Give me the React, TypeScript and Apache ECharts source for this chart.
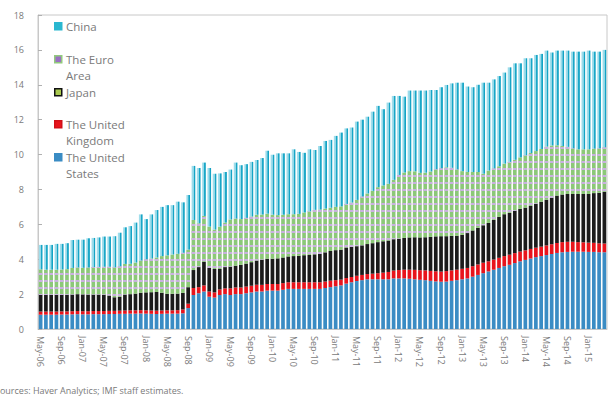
import React, { useEffect, useRef } from "react";
import * as echarts from "echarts";

const monthNames = ["Jan", "Feb", "Mar", "Apr", "May", "Jun", "Jul", "Aug", "Sep", "Oct", "Nov", "Dec"];
// May-2006 .. Apr-2015, monthly
const categories: string[] = [];
for (let k = 0; k < 108; k++) {
  const m = (4 + k) % 12;
  const y = 6 + Math.floor((4 + k) / 12);
  categories.push(`${monthNames[m]}-${String(y).padStart(2, "0")}`);
}

const seriesNames = ["The United States", "The United Kingdom", "Japan", "The Euro Area", "China"];

const usValues = [
  0.82, 0.82, 0.82, 0.82, 0.83, 0.83, 0.84, 0.85, 0.84, 0.84, 0.85, 0.85, 0.85, 0.86, 0.86, 0.87, 0.87, 0.88, 0.88, 0.89,
  0.88, 0.87, 0.86, 0.87, 0.88, 0.88, 0.88, 0.9, 1.2, 1.95, 2.05, 2.15, 1.85, 1.8, 1.95, 2.0, 1.95, 2.0, 2.0, 2.05,
  2.1, 2.15, 2.15, 2.2, 2.2, 2.2, 2.25, 2.3, 2.3, 2.3, 2.3, 2.3, 2.3, 2.3, 2.35, 2.4, 2.45, 2.5, 2.6, 2.68,
  2.75, 2.8, 2.85, 2.85, 2.85, 2.85, 2.85, 2.9, 2.9, 2.9, 2.88, 2.85, 2.82, 2.8, 2.76, 2.73, 2.71, 2.72, 2.76, 2.8,
  2.85, 2.9, 3.0, 3.1, 3.2, 3.3, 3.4, 3.5, 3.6, 3.68, 3.78, 3.88, 3.96, 4.04, 4.12, 4.18, 4.24, 4.3, 4.36, 4.4,
  4.42, 4.43, 4.43, 4.43, 4.42, 4.42, 4.4, 4.4,
];
const ukValues = [
  0.18, 0.18, 0.18, 0.18, 0.18, 0.18, 0.18, 0.18, 0.18, 0.18, 0.18, 0.18, 0.18, 0.18, 0.18, 0.18, 0.19, 0.19, 0.19, 0.19,
  0.19, 0.19, 0.19, 0.19, 0.19, 0.19, 0.2, 0.22, 0.25, 0.4, 0.35, 0.35, 0.3, 0.3, 0.32, 0.33, 0.38, 0.38, 0.38, 0.38,
  0.38, 0.38, 0.38, 0.38, 0.38, 0.38, 0.38, 0.38, 0.38, 0.38, 0.38, 0.38, 0.38, 0.38, 0.37, 0.37, 0.35, 0.33, 0.32, 0.3,
  0.3, 0.3, 0.3, 0.32, 0.35, 0.38, 0.42, 0.45, 0.48, 0.5, 0.52, 0.54, 0.55, 0.56, 0.57, 0.58, 0.58, 0.6, 0.6, 0.6,
  0.6, 0.6, 0.6, 0.6, 0.6, 0.58, 0.58, 0.58, 0.58, 0.58, 0.57, 0.56, 0.55, 0.55, 0.54, 0.54, 0.55, 0.56, 0.57, 0.58,
  0.58, 0.57, 0.55, 0.54, 0.53, 0.52, 0.51, 0.5,
];
const japanValues = [
  0.95, 0.95, 0.96, 0.95, 0.94, 0.95, 0.96, 0.97, 0.97, 0.96, 0.95, 0.95, 0.94, 0.88, 0.78, 0.8, 0.92, 0.93, 0.96, 1.0,
  1.03, 1.05, 1.07, 1.02, 0.95, 0.95, 0.95, 0.95, 0.95, 1.03, 1.15, 1.36, 1.35, 1.34, 1.17, 1.22, 1.25, 1.25, 1.3, 1.32,
  1.35, 1.4, 1.45, 1.45, 1.45, 1.47, 1.47, 1.48, 1.5, 1.52, 1.55, 1.57, 1.6, 1.62, 1.68, 1.7, 1.72, 1.72, 1.75, 1.72,
  1.7, 1.7, 1.72, 1.75, 1.78, 1.8, 1.8, 1.8, 1.8, 1.82, 1.85, 1.87, 1.88, 1.9, 1.95, 2.0, 2.03, 2.0, 1.98, 1.95,
  1.95, 2.0, 2.05, 2.1, 2.15, 2.2, 2.28, 2.35, 2.4, 2.4, 2.42, 2.45, 2.45, 2.48, 2.52, 2.58, 2.62, 2.66, 2.72, 2.73,
  2.74, 2.74, 2.76, 2.77, 2.79, 2.85, 2.9, 2.97,
];
const euroValues = [
  1.47, 1.45, 1.44, 1.45, 1.46, 1.47, 1.52, 1.53, 1.52, 1.55, 1.57, 1.58, 1.6, 1.65, 1.72, 1.75, 1.75, 1.74, 1.78, 1.85,
  1.9, 1.93, 1.98, 2.1, 2.2, 2.25, 2.28, 2.3, 2.15, 2.87, 2.51, 2.62, 2.37, 2.26, 2.43, 2.55, 2.7, 2.7, 2.62, 2.62,
  2.62, 2.62, 2.58, 2.58, 2.52, 2.48, 2.45, 2.42, 2.4, 2.4, 2.45, 2.5, 2.55, 2.55, 2.5, 2.48, 2.48, 2.48, 2.5, 2.55,
  2.65, 2.8, 2.9, 3.0, 3.15, 3.2, 3.25, 3.4, 3.65, 3.75, 3.8, 3.78, 3.7, 3.7, 3.75, 3.85, 3.9, 3.95, 3.9, 3.8,
  3.65, 3.5, 3.35, 3.2, 2.95, 3.0, 2.95, 2.9, 2.9, 2.92, 2.93, 2.95, 3.0, 3.02, 3.02, 3.02, 3.05, 3.0, 2.88, 2.78,
  2.7, 2.62, 2.56, 2.56, 2.56, 2.55, 2.55, 2.55,
];
const chinaValues = [
  1.4, 1.42, 1.42, 1.48, 1.47, 1.49, 1.6, 1.59, 1.61, 1.67, 1.67, 1.69, 1.73, 1.73, 1.78, 1.92, 2.1, 2.16, 2.29, 2.64,
  2.3, 2.53, 2.72, 2.82, 2.88, 2.83, 2.99, 2.89, 3.13, 3.1, 3.17, 3.06, 3.36, 3.2, 3.05, 2.9, 2.86, 3.21, 3.09, 3.08,
  3.13, 3.14, 3.24, 3.61, 3.44, 3.54, 3.52, 3.49, 3.72, 3.55, 3.42, 3.55, 3.43, 3.64, 3.88, 3.89, 4.07, 4.23, 4.33, 4.3,
  4.49, 4.4, 4.4, 4.54, 4.66, 4.37, 4.66, 4.81, 4.53, 4.35, 4.62, 4.63, 4.72, 4.71, 4.67, 4.54, 4.64, 4.72, 4.84, 4.97,
  5.07, 4.9, 4.86, 5.0, 5.22, 5.04, 5.1, 5.17, 5.22, 5.42, 5.53, 5.39, 5.56, 5.43, 5.51, 5.45, 5.5, 5.33, 5.43, 5.47,
  5.52, 5.54, 5.6, 5.6, 5.66, 5.56, 5.54, 5.58,
];

const yMin = 0;
const yMax = 18;
const yStep = 2;
const sourceText = "Sources: Haver Analytics; IMF staff estimates.";
const legendLabels = ["China", "The Euro\nArea", "Japan", "The United\nKingdom", "The United\nStates"];

const FONT = "'Open Sans', 'Noto Sans', sans-serif";
const TXT = "#7a7a7a";

export default function App() {
  const ref = useRef<HTMLDivElement>(null);
  useEffect(() => {
    if (!ref.current) return;
    const chart = echarts.init(ref.current, undefined, { renderer: "svg" });

    const chinaGrad = new echarts.graphic.LinearGradient(0, 0, 1, 0, [
      { offset: 0, color: "#a9e1ed" },
      { offset: 0.55, color: "#8ed6e7" },
      { offset: 0.62, color: "#1aa9c9" },
      { offset: 1, color: "#109fc0" },
    ]);

    const colors = ["#3a8cc4", "#e8141c", "#1b1b1b", "#8cc878", chinaGrad];
    const dataSets = [usValues, ukValues, japanValues, euroValues, chinaValues];

    const series: any[] = seriesNames.map((name, idx) => {
      const s: any = {
        name,
        type: "bar",
        stack: "total",
        data: dataSets[idx],
        barCategoryGap: "30%",
        itemStyle: { color: colors[idx] },
      };
      if (idx === 3) {
        s.itemStyle.decal = {
          symbol: "rect",
          symbolSize: 1,
          color: "#c9b0e0",
          dashArrayX: [1, 0],
          dashArrayY: [2, 5],
          rotation: 0,
        };
      }
      return s;
    });

    const legendIcons = [
      { fill: "#2ab7d0", stroke: "#2ab7d0" },
      { fill: "#9a70c2", stroke: "#92c97e" },
      { fill: "#a9c94f", stroke: "#111111" },
      { fill: "#e8141c", stroke: "#d21018" },
      { fill: "#3a8cc4", stroke: "#3a8cc4" },
    ];
    const legendY = [26, 59, 92, 124, 157];
    const legendGraphics: any[] = [];
    legendLabels.forEach((lbl, i) => {
      legendGraphics.push({
        type: "rect",
        left: 54,
        top: legendY[i] - 4,
        shape: { width: 7, height: 7 },
        style: { fill: legendIcons[i].fill, stroke: legendIcons[i].stroke, lineWidth: 1.5 },
      });
      legendGraphics.push({
        type: "text",
        left: 66,
        top: legendY[i] - 8,
        style: {
          text: lbl,
          fill: TXT,
          font: `11.5px ${FONT}`,
          lineHeight: 16,
        },
      });
    });
    legendGraphics.push({
      type: "text",
      left: -5,
      top: 386,
      style: { text: sourceText, fill: TXT, font: `9px ${FONT}` },
    });

    chart.setOption({
      animation: false,
      grid: {
        left: 38,
        right: 3,
        top: 15,
        bottom: 71,
        show: true,
        borderColor: "#c8c8c8",
        borderWidth: 1,
      },
      xAxis: {
        type: "category",
        data: categories,
        axisLine: { show: true, lineStyle: { color: "#c8c8c8" } },
        axisTick: { show: false },
        axisLabel: {
          interval: 3,
          rotate: -90,
          margin: 7,
          fontSize: 9,
          color: TXT,
          fontFamily: FONT,
        },
      },
      yAxis: {
        type: "value",
        min: yMin,
        max: yMax,
        interval: yStep,
        splitLine: { show: false },
        axisLine: { show: true, lineStyle: { color: "#c8c8c8" } },
        axisTick: { show: true, inside: true, length: 4, lineStyle: { color: "#b0b0b0" } },
        axisLabel: { margin: 14, fontSize: 9, color: TXT, fontFamily: FONT },
      },
      series,
      graphic: legendGraphics,
    });

    return () => chart.dispose();
  }, []);

  return (
    <div
      ref={ref}
      style={{ position: "absolute", left: 0, top: 0, width: 610, height: 400, background: "#fff" }}
    />
  );
}
